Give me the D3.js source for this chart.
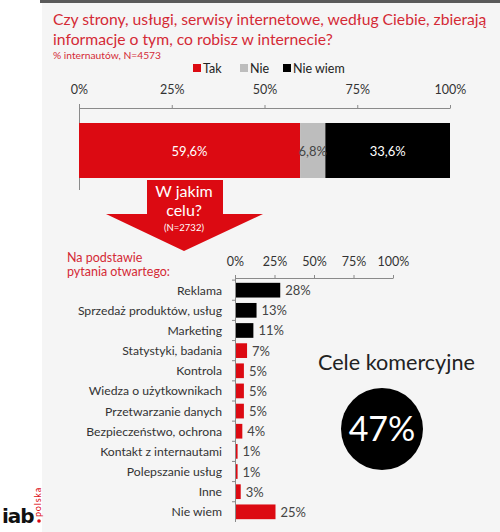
<!DOCTYPE html>
<html>
<head>
<meta charset="utf-8">
<script src="https://cdn.jsdelivr.net/npm/d3@7"></script>
<style>
  body { margin:0; background:#fff; }
  svg { font-family: Lato, "Open Sans", sans-serif; }
</style>
</head>
<body>
<svg id="mainSVG" width="500" height="532"></svg>
<script>
var $svg = d3.select("#mainSVG");

// top stacked bar
var answerNames = ['Tak','Nie','Nie wiem'];
var answerValues = [59.6, 6.8, 33.6];
var answerLabels = ['59,6%','6,8%','33,6%'];
var answerColors = ['#dc0a12','#bdbdbd','#000000'];
var pctTicks = [0,25,50,75,100];

// purposes (open question)
var purposeNames = ['Reklama','Sprzedaż produktów, usług','Marketing','Statystyki, badania',
  'Kontrola','Wiedza o użytkownikach','Przetwarzanie danych','Bezpieczeństwo, ochrona',
  'Kontakt z internautami','Polepszanie usług','Inne','Nie wiem'];
var purposeValues = [28,13,11,7,5,5,5,4,1,1,3,25];
var purposeCommercial = [true,true,true,false,false,false,false,false,false,false,false,false];
var commercialShare = '47%';

var red = '#dc0a12';
var titleRed = '#d42a35';
var axisCol = '#8a8a8a';

// shrink/grow font so a text spans the given width
function fitText($t, w){
  let fs = +$t.attr('font-size');
  let cur = $t.node().getComputedTextLength();
  if (cur > 0) $t.attr('font-size', fs*w/cur);
  return $t;
}

// background panel
$svg.append('rect').attr('x',42).attr('y',0).attr('width',458).attr('height',532).attr('fill','#f5f5f5');
$svg.append('rect').attr('x',40).attr('y',0).attr('width',460).attr('height',3).attr('fill','#5a5a5a');

// title
var $title = $svg.append('g').attr('fill',titleRed);
fitText($title.append('text').attr('x',53).attr('y',25).attr('font-size',17)
  .text('Czy strony, usługi, serwisy internetowe, według Ciebie, zbierają'), 434);
fitText($title.append('text').attr('x',53).attr('y',45).attr('font-size',17)
  .text('informacje o tym, co robisz w internecie?'), 280);
fitText($title.append('text').attr('x',53).attr('y',59).attr('font-size',10)
  .text('% internautów, N=4573'), 108);

// legend
var legendX = [193,240,283];
var $legend = $svg.append('g').selectAll('g').data(answerNames).enter().append('g')
  .attr('transform',(d,i)=>`translate(${legendX[i]} 64)`);
$legend.append('rect').attr('width',8).attr('height',8).attr('y',0).attr('fill',(d,i)=>answerColors[i]);
$legend.append('text').attr('x',10).attr('y',8.5).attr('font-size',12.5).attr('fill','#222').text(d=>d);

// top scale
var xTop = d3.scaleLinear().domain([0,100]).range([79,450]);
var $topAxis = $svg.append('g').attr('transform','translate(0 108)')
  .call(d3.axisTop(xTop).tickValues(pctTicks).tickSize(4).tickSizeOuter(0).tickPadding(10).tickFormat(d=>d+'%'));
$topAxis.select('.domain').attr('stroke',axisCol);
$topAxis.selectAll('.tick line').attr('stroke',axisCol).attr('y2',-3);
$topAxis.selectAll('.tick text').attr('font-size',12.5).attr('fill','#333').attr('font-family','Lato, sans-serif');
$svg.append('line').attr('x1',79.5).attr('x2',79.5).attr('y1',104).attr('y2',190).attr('stroke',axisCol);

var stack = [];
var acc = 0;
answerValues.forEach((v,i)=>{ stack.push({x0:acc, x1:acc+v, i:i}); acc += v; });

$svg.append('g').selectAll('rect').data(stack).enter().append('rect')
  .attr('x',d=>xTop(d.x0)).attr('width',d=>xTop(d.x1)-xTop(d.x0))
  .attr('y',123).attr('height',55).attr('fill',d=>answerColors[d.i]);
$svg.append('g').selectAll('text').data(stack).enter().append('text')
  .attr('x',d=>(xTop(d.x0)+xTop(d.x1))/2).attr('y',155.5)
  .attr('text-anchor','middle').attr('font-size',13)
  .attr('fill',d=>d.i==1?'#444':'#fff')
  .text(d=>answerLabels[d.i]);

// arrow
$svg.append('path').attr('fill',red)
  .attr('d','M 147 180 L 223 180 L 223 214 L 263 214 L 184 251 L 106 214 L 147 214 Z');
var $arrowText = $svg.append('g').attr('fill','#fff').attr('text-anchor','middle');
$arrowText.append('text').attr('x',184).attr('y',197).attr('font-size',16).text('W jakim');
$arrowText.append('text').attr('x',184).attr('y',216).attr('font-size',16).text('celu?');
$arrowText.append('text').attr('x',184).attr('y',231).attr('font-size',9.5).text('(N=2732)');

$svg.append('text').attr('x',67).attr('y',262).attr('font-size',12.5).attr('fill',titleRed).text('Na podstawie');
$svg.append('text').attr('x',67).attr('y',276).attr('font-size',12.5).attr('fill',titleRed).text('pytania otwartego:');

// bottom chart
var xB = d3.scaleLinear().domain([0,100]).range([235,393]);
var yB = d3.scaleBand().domain(purposeNames).range([280,522]).paddingInner(0.27).paddingOuter(0.14);

var $bAxis = $svg.append('g').attr('transform','translate(0 278)')
  .call(d3.axisTop(xB).tickValues(pctTicks).tickSize(4).tickSizeOuter(0).tickPadding(8).tickFormat(d=>d+'%'));
$bAxis.select('.domain').attr('stroke',axisCol);
$bAxis.selectAll('.tick line').attr('stroke',axisCol).attr('y2',-3);
$bAxis.selectAll('.tick text').attr('font-size',12.5).attr('fill','#333').attr('font-family','Lato, sans-serif');

$svg.append('line').attr('x1',235.5).attr('x2',235.5).attr('y1',275).attr('y2',522).attr('stroke',axisCol);
// category separators
var step = yB.step();
$svg.append('g').selectAll('line').data(purposeNames).enter().append('line')
  .attr('x1',232).attr('x2',235)
  .attr('y1',d=>yB(d)-step*yB.paddingInner()/2).attr('y2',d=>yB(d)-step*yB.paddingInner()/2)
  .attr('stroke',axisCol);

$svg.append('g').selectAll('rect').data(purposeNames).enter().append('rect')
  .attr('x',xB(0)+1).attr('y',d=>yB(d))
  .attr('width',(d,i)=>xB(purposeValues[i])-xB(0))
  .attr('height',yB.bandwidth())
  .attr('fill',(d,i)=>purposeCommercial[i]?'#000':red);

$svg.append('g').selectAll('text').data(purposeNames).enter().append('text')
  .attr('x',222).attr('y',d=>yB(d)+yB.bandwidth()/2+4.5)
  .attr('text-anchor','end').attr('font-size',12.2).attr('fill','#333').text(d=>d);

$svg.append('g').selectAll('text').data(purposeNames).enter().append('text')
  .attr('x',(d,i)=>xB(purposeValues[i])+6).attr('y',d=>yB(d)+yB.bandwidth()/2+5)
  .attr('font-size',13).attr('fill','#444').text((d,i)=>purposeValues[i]+'%');

// commercial summary
fitText($svg.append('text').attr('x',318).attr('y',370).attr('font-size',18.5).attr('fill','#222')
  .text('Cele komercyjne'), 157);
$svg.append('circle').attr('cx',382).attr('cy',429).attr('r',41).attr('fill','#000');
$svg.append('text').attr('x',382).attr('y',441).attr('text-anchor','middle').attr('font-size',34)
  .attr('fill','#fff').text(commercialShare);

// logo
$svg.append('text').attr('x',2).attr('y',523).attr('font-size',20).attr('font-weight','bold')
  .attr('font-family','"DejaVu Sans", sans-serif').attr('letter-spacing',-1)
  .attr('fill','#111').text('iab');
$svg.append('circle').attr('cx',39).attr('cy',521).attr('r',1.8).attr('fill',red);
$svg.append('text').attr('transform','translate(41 517) rotate(-90)').attr('font-size',9)
  .attr('letter-spacing',0.8).attr('fill',red).text('polska');
</script>
</body>
</html>
